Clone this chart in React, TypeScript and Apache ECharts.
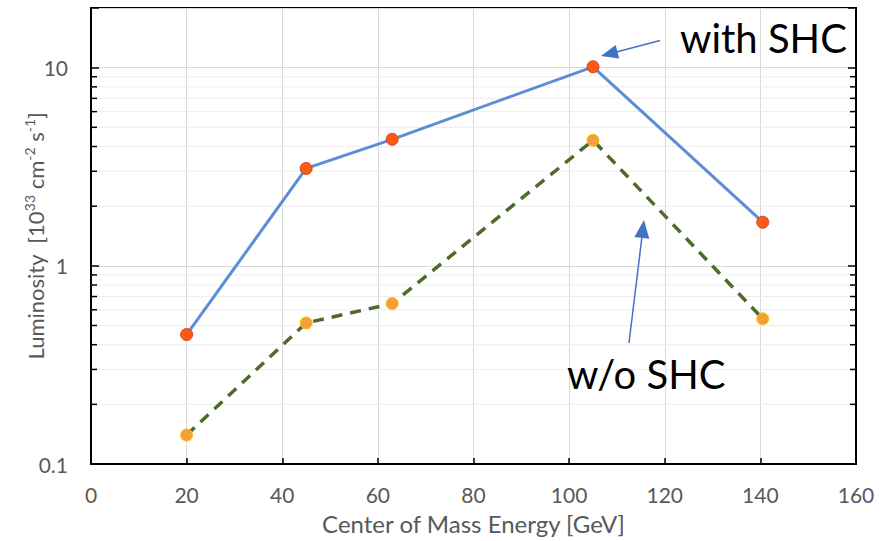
import React, { useEffect, useRef } from 'react';
import * as echarts from 'echarts';

const energies = [20, 45, 63, 105, 140.5];
const withSHC = [0.45, 3.1, 4.35, 10.1, 1.66];
const withoutSHC = [0.14, 0.515, 0.645, 4.3, 0.54];
const minorLevels = [0.2, 0.3, 0.4, 0.5, 0.6, 0.7, 0.8, 0.9, 2, 3, 4, 5, 6, 7, 8, 9];
const xMin = 0;
const xMax = 160;
const xStep = 20;
const yMin = 0.1;
const yMax = 20;

const FONT = 'Lato, "Liberation Sans", sans-serif';
const ARROW = '#4472C4';

function arrow(x1: number, y1: number, x2: number, y2: number, len: number, w: number) {
  const dx = x2 - x1;
  const dy = y2 - y1;
  const d = Math.sqrt(dx * dx + dy * dy);
  const ux = dx / d;
  const uy = dy / d;
  const bx = x2 - ux * len;
  const by = y2 - uy * len;
  const px = -uy * (w / 2);
  const py = ux * (w / 2);
  return [
    {
      type: 'line',
      shape: { x1, y1, x2: bx + ux * 2, y2: by + uy * 2 },
      style: { stroke: ARROW, lineWidth: 1.5 },
      z: 100,
    },
    {
      type: 'polygon',
      shape: { points: [[x2, y2], [bx + px, by + py], [bx - px, by - py]] },
      style: { fill: ARROW },
      z: 100,
    },
  ];
}

export default function App() {
  const ref = useRef<HTMLDivElement>(null);
  useEffect(() => {
    if (!ref.current) return;
    const chart = echarts.init(ref.current, null, { renderer: 'svg' });
    const option: any = {
      animation: false,
      textStyle: { fontFamily: FONT },
      grid: {
        left: 91,
        right: 36,
        top: 8,
        bottom: 77,
        containLabel: false,
        outerBoundsMode: 'none',
        show: true,
        borderColor: '#000',
        borderWidth: 2,
        backgroundColor: 'transparent',
      },
      xAxis: {
        type: 'value',
        min: xMin,
        max: xMax,
        interval: xStep,
        name: 'Center of Mass Energy [GeV]',
        nameLocation: 'middle',
        nameGap: 47,
        nameTextStyle: { fontSize: 24, color: '#595959', fontFamily: FONT },
        axisLine: { show: true, lineStyle: { color: '#000', width: 2 } },
        axisTick: { show: true, inside: true, length: 6, lineStyle: { color: '#000', width: 1.5 } },
        axisLabel: { fontSize: 21, color: '#595959', margin: 20, fontFamily: FONT },
        splitLine: { show: true, lineStyle: { color: '#D9D9D9', width: 1 } },
      },
      yAxis: [
        {
          type: 'log',
          logBase: 10,
          min: yMin,
          max: yMax,
          name: 'Luminosity  [10{sup|33} cm{sup|-2} s{sup|-1}]',
          nameLocation: 'middle',
          nameGap: 43,
          nameRotate: 90,
          nameMoveOverlap: false,
          nameTextStyle: {
            fontSize: 22,
            color: '#595959',
            fontFamily: FONT,
            lineHeight: 26,
            rich: {
              sup: { fontSize: 14, color: '#595959', verticalAlign: 'top', lineHeight: 26, fontFamily: FONT },
            },
          },
          axisLine: { show: true, lineStyle: { color: '#000', width: 2 } },
          axisTick: { show: true, inside: true, length: 8, lineStyle: { color: '#000', width: 1.5 } },
          axisLabel: {
            fontSize: 21,
            color: '#595959',
            margin: 23,
            fontFamily: FONT,
            formatter: (v: number) => (v > 15 ? '' : String(+Number(v).toPrecision(3))),
          },
          splitLine: { show: true, lineStyle: { color: '#D9D9D9', width: 1 } },
        },
        {
          type: 'log',
          logBase: 10,
          min: yMin,
          max: yMax,
          position: 'right',
          axisLine: { show: true, lineStyle: { color: '#000', width: 2 } },
          axisTick: { show: true, inside: true, length: 8, lineStyle: { color: '#000', width: 1.5 } },
          axisLabel: { show: false },
          splitLine: { show: false },
        },
      ],
      series: [
        {
          type: 'custom',
          silent: true,
          z: 1,
          data: minorLevels.map((v) => [xMin, v]),
          renderItem: (params: any, api: any) => {
            const cs = params.coordSys;
            const y = api.coord([xMin, api.value(1)])[1];
            const l = cs.x;
            const r = cs.x + cs.width;
            return {
              type: 'group',
              children: [
                { type: 'line', shape: { x1: l, y1: y, x2: r, y2: y }, style: { stroke: '#EEEEEE', lineWidth: 1 } },
                { type: 'line', shape: { x1: l, y1: y, x2: l + 6, y2: y }, style: { stroke: '#000', lineWidth: 1.5 } },
                { type: 'line', shape: { x1: r - 6, y1: y, x2: r, y2: y }, style: { stroke: '#000', lineWidth: 1.5 } },
              ],
            };
          },
        },
        {
          name: 'w/o SHC',
          type: 'line',
          z: 3,
          data: energies.map((e, i) => [e, withoutSHC[i]]),
          symbol: 'circle',
          symbolSize: 12,
          lineStyle: { color: '#4F6B2B', width: 3.5, type: [11, 8] },
          itemStyle: { color: '#F4A03A', borderColor: '#FFC000', borderWidth: 1 },
        },
        {
          name: 'with SHC',
          type: 'line',
          z: 4,
          data: energies.map((e, i) => [e, withSHC[i]]),
          symbol: 'circle',
          symbolSize: 12,
          lineStyle: { color: '#5B8ED6', width: 3 },
          itemStyle: { color: '#FF5A14', borderColor: '#D0442A', borderWidth: 1 },
        },
      ],
      graphic: [
        {
          type: 'text',
          left: 680,
          top: 18,
          z: 100,
          style: { text: 'with SHC', fontSize: 40, fill: '#000', fontFamily: FONT },
        },
        {
          type: 'text',
          left: 567,
          top: 354,
          z: 100,
          style: { text: 'w/o SHC', fontSize: 40, fill: '#000', fontFamily: FONT },
        },
        ...arrow(660, 40.5, 601, 56, 17, 14),
        ...arrow(629, 343, 644, 220, 18, 15),
      ],
    };
    chart.setOption(option);
    return () => chart.dispose();
  }, []);
  return (
    <div
      ref={ref}
      style={{ position: 'fixed', left: 0, top: 0, width: 892, height: 541, background: '#fff' }}
    />
  );
}
